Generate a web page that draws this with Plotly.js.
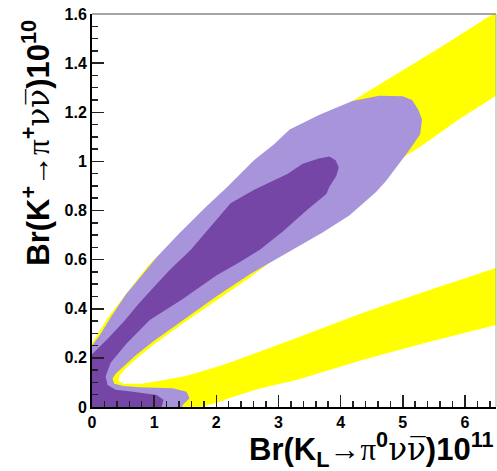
<!DOCTYPE html>
<html>
<head>
<meta charset="utf-8">
<script src="https://cdn.plot.ly/plotly-3.0.1.min.js"></script>
<style>html,body{margin:0;padding:0;background:#fff;}#chart{width:497px;height:471px;}</style>
</head>
<body>
<div id="chart"></div>
<script>
// Yellow band (closed contour, parts outside the axes are clipped)
const yellowX = [-0.1, 1.6, 1.75, 2.05, 2.21, 2.7, 3.29, 4.35, 5.43, 6.5, 6.6,
  6.6, 6.5, 5.43, 4.35, 3.29, 2.5, 2.21, 2.0, 1.5, 1.04, 0.8, 0.5, 0.42,
  0.45, 0.55, 0.75, 1.0, 1.46, 2.0, 2.5, 3.0, 3.5, 4.0, 4.5, 5.0, 5.31, 5.9, 6.5, 6.6,
  6.6, 6.45, 5.64, 5.0, 4.19, 3.5, 2.5, 1.8, 1.06, 0.9, 0.58, 0.26, 0.10, 0.0, -0.1];
const yellowY = [-0.05, -0.05, 0.0, 0.02, 0.037, 0.075, 0.11, 0.191, 0.266, 0.334, 0.34,
  0.575, 0.566, 0.476, 0.383, 0.281, 0.205, 0.18, 0.163, 0.125, 0.105, 0.095, 0.095, 0.108,
  0.13, 0.16, 0.205, 0.255, 0.34, 0.435, 0.52, 0.615, 0.71, 0.81, 0.915, 1.015, 1.065, 1.17, 1.266, 1.283,
  1.62, 1.6, 1.47, 1.37, 1.246, 1.12, 0.93, 0.78, 0.615, 0.575, 0.47, 0.365, 0.30, 0.26, 0.22];

// Light purple region (outer confidence contour)
const lightX = [0.0, 0.12, 0.31, 0.55, 0.8, 1.04, 1.41, 1.84, 2.18, 2.61, 2.93, 3.18, 3.66, 4.19, 4.62, 5.0, 5.15, 5.25, 5.31, 5.28, 5.10, 4.94, 4.73, 4.57, 4.14, 3.71, 3.23, 2.54, 2.0, 1.46, 1.0, 0.7, 0.5, 0.38, 0.33, 0.36, 0.5, 0.77, 1.30, 1.52, 1.57, 1.46, 1.4, -0.1, -0.1];
const lightY = [0.25, 0.29, 0.368, 0.46, 0.535, 0.61, 0.708, 0.816, 0.897, 1.006, 1.07, 1.13, 1.19, 1.246, 1.267, 1.265, 1.25, 1.21, 1.17, 1.11, 1.044, 0.99, 0.92, 0.875, 0.78, 0.71, 0.64, 0.54, 0.45, 0.354, 0.27, 0.21, 0.165, 0.135, 0.115, 0.095, 0.085, 0.08, 0.076, 0.062, 0.036, 0.008, -0.05, -0.05, 0.22];

// Dark purple region (inner confidence contour)
const darkX = [0.0, 0.04, 0.26, 0.52, 0.75, 1.0, 1.25, 1.59, 1.91, 2.23, 2.61, 2.93, 3.15, 3.39, 3.65, 3.82, 3.92, 3.97, 3.93, 3.82, 3.77, 3.45, 3.07, 2.70, 2.38, 2.0, 1.46, 0.93, 0.56, 0.3, 0.22, 0.25, 0.38, 0.66, 1.04, 1.15, 1.12, 1.1, -0.1, -0.1];
const darkY = [0.215, 0.225, 0.28, 0.35, 0.42, 0.49, 0.558, 0.64, 0.734, 0.83, 0.884, 0.924, 0.95, 0.99, 1.012, 1.02, 1.005, 0.975, 0.94, 0.897, 0.867, 0.80, 0.715, 0.64, 0.59, 0.535, 0.44, 0.354, 0.26, 0.18, 0.125, 0.09, 0.07, 0.062, 0.049, 0.03, 0.0, -0.05, -0.05, 0.2];

const xTickVals = [0, 1, 2, 3, 4, 5, 6];
const yTickVals = [0, 0.2, 0.4, 0.6, 0.8, 1.0, 1.2, 1.4, 1.6];
const yTickText = ['0', '0.2', '0.4', '0.6', '0.8', '1', '1.2', '1.4', '1.6'];

const region = (x, y, color) => ({
  type: 'scatter', mode: 'lines', x: x, y: y, fill: 'toself',
  fillcolor: color, line: {width: 0, color: color}, hoverinfo: 'skip', showlegend: false
});

const traces = [
  region(yellowX, yellowY, '#ffff00'),
  region(lightX, lightY, '#a794da'),
  region(darkX, darkY, '#7646a7')
];

const tickFont = {family: 'Liberation Sans, Arial, sans-serif', size: 16, color: '#000', weight: 'bold'};
const titleFont = {family: 'Liberation Sans, Arial, sans-serif', size: 31, color: '#000', weight: 'bold'};

const serif = s => '<span style="font-family:Liberation Serif;font-weight:normal">' + s + '</span>';
const nuFont = s => '<span style="font-family:DejaVu Serif;font-weight:normal">' + s + '</span>';
const nunubar = nuFont('\u03bd\u03bd\u0305');

const layout = {
  width: 497, height: 471,
  margin: {l: 92, r: 1, t: 14, b: 64},
  paper_bgcolor: '#fff', plot_bgcolor: '#fff',
  showlegend: false,
  xaxis: {
    range: [0, 6.5], showgrid: false, zeroline: false,
    tickvals: xTickVals, ticktext: xTickVals.map(String),
    ticks: 'inside', ticklen: 12, tickwidth: 1.5, tickcolor: '#222',
    minor: {dtick: 0.2, ticks: 'inside', ticklen: 6, tickwidth: 1.5, tickcolor: '#222', showgrid: false},
    showline: true, linecolor: '#000', linewidth: 2,
    tickfont: tickFont
  },
  yaxis: {
    range: [0, 1.6], showgrid: false, zeroline: false,
    tickvals: yTickVals, ticktext: yTickText,
    ticks: 'inside', ticklen: 12, tickwidth: 1.5, tickcolor: '#222',
    minor: {dtick: 0.05, ticks: 'inside', ticklen: 6, tickwidth: 1.5, tickcolor: '#222', showgrid: false},
    showline: true, linecolor: '#000', linewidth: 2,
    tickfont: tickFont
  },
  shapes: [
    {type: 'line', xref: 'paper', yref: 'paper', x0: 0, x1: 1, y0: 1, y1: 1, line: {color: '#888', width: 1.5}},
    {type: 'line', xref: 'paper', yref: 'paper', x0: 1, x1: 1, y0: 0, y1: 1, line: {color: '#aaa', width: 1}}
  ],
  annotations: [
    {xref: 'paper', yref: 'paper', x: 1.0, y: -0.107, xanchor: 'right', yanchor: 'middle',
     showarrow: false, font: titleFont,
     text: 'Br(K<sub>L</sub>' + serif('\u2192\u03c0') + '<sup>0</sup>' + nunubar + ')10<sup>11</sup>'},
    {xref: 'paper', yref: 'paper', x: -0.139, y: 0.672, xanchor: 'center', yanchor: 'middle',
     showarrow: false, textangle: -90, font: titleFont,
     text: 'Br(K<sup>+</sup>' + serif('\u2192\u03c0') + '<sup>+</sup>' + nunubar + ')10<sup>10</sup>'}
  ]
};

Plotly.newPlot('chart', traces, layout, {displayModeBar: false, staticPlot: true});
</script>
</body>
</html>
